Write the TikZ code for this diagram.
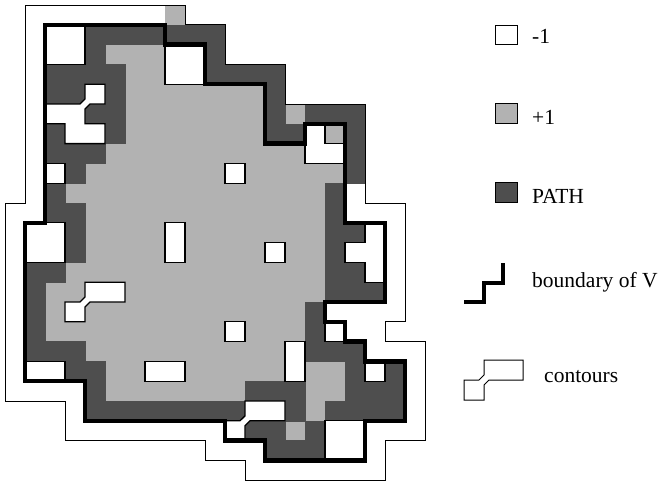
\documentclass[tikz,border=0pt]{standalone}
\usepackage{fontspec}
\setmainfont{Liberation Serif}
\definecolor{lightc}{RGB}{178,178,178}
\definecolor{darkc}{RGB}{78,78,78}
\begin{document}
\begin{tikzpicture}[x=1pt,y=-1pt,
  thinline/.style={line width=1pt, draw=black},
  cellline/.style={line width=1.3pt, draw=black, fill=white},
  vline/.style={line width=4.5pt, draw=black, line join=miter},
  darkcell/.style={fill=darkc, draw=darkc, line width=0.4pt},
  lightcell/.style={fill=lightc, draw=lightc, line width=0.4pt},
  legtext/.style={font=\fontsize{21.5}{26}\selectfont, anchor=base west, inner sep=0pt}]
\useasboundingbox (0,0) rectangle (666,483);
\begin{scope}[x=20pt, y=-19.8pt, shift={(5pt,-5pt)}]
  % region V (+1 background)
  \fill[lightc] (2,1) -- (8,1) -- (8,2) -- (10,2) -- (10,4) -- (13,4) -- (13,7) -- (15,7) -- (15,6) -- (17,6) -- (17,11) -- (19,11) -- (19,15) -- (16,15) -- (16,16) -- (17,16) -- (17,17) -- (18,17) -- (18,18) -- (20,18) -- (20,21) -- (18,21) -- (18,23) -- (13,23) -- (13,22) -- (11,22) -- (11,21) -- (4,21) -- (4,19) -- (1,19) -- (1,11) -- (2,11) -- cycle;
  % +1 cells outside V
  \foreach \c/\r in {8/0,14/5} \path[lightcell] (\c,\r) rectangle ++(1,1);
  % PATH cells
  \foreach \c/\r in {8/1,9/1,10/1,10/2,10/3,11/3,12/3,13/3,13/4,13/5,13/6,14/6,15/5,16/5,17/5,17/6,17/7,17/8,
    4/1,5/1,6/1,7/1,4/2,2/3,3/3,4/3,5/3,2/4,3/4,5/4,4/5,5/5,2/6,5/6,2/7,3/7,4/7,3/8,
    2/9,16/9,2/10,3/10,16/10,3/11,16/11,17/11,3/12,16/12,1/13,2/13,16/13,17/13,
    1/14,16/14,17/14,18/14,1/15,15/15,1/16,15/16,1/17,2/17,3/17,15/17,16/17,17/17,
    3/18,4/18,17/18,19/18,4/19,12/19,13/19,14/19,17/19,18/19,19/19,
    4/20,5/20,6/20,7/20,8/20,9/20,10/20,11/20,14/20,16/20,17/20,18/20,19/20,
    12/21,13/21,15/21,13/22,14/22,15/22}
    \path[darkcell] (\c,\r) rectangle ++(1,1);
  % -1 clusters inside V
  \path[cellline] (2,1) rectangle (4,3);
  \path[cellline] (8,2) rectangle (10,4);
  \path[cellline] (4,4) -- (5,4) -- (5,5) -- (4.25,5) -- (4,5.25) -- (4,6) -- (5,6) -- (5,7) -- (3,7) -- (3,6) -- (2,6) -- (2,5) -- (3.75,5) -- (4,4.75) -- cycle;
  \path[cellline] (2,8) rectangle (3,9);
  \path[cellline] (1,11) rectangle (3,13);
  \path[cellline] (4,14) -- (6,14) -- (6,15) -- (4.25,15) -- (4,15.25) -- (4,16) -- (3,16) -- (3,15) -- (3.75,15) -- (4,14.75) -- cycle;
  \path[cellline] (1,18) rectangle (3,19);
  \path[cellline] (7,18) rectangle (9,19);
  \path[cellline] (8,11) rectangle (9,13);
  \path[cellline] (11,8) rectangle (12,9);
  \path[cellline] (13,12) rectangle (14,13);
  \path[cellline] (11,16) rectangle (12,17);
  \path[cellline] (14,17) rectangle (15,19);
  \path[cellline] (12,20) -- (14,20) -- (14,21) -- (12.25,21) -- (12,21.25) -- (12,22) -- (11,22) -- (11,21) -- (11.75,21) -- (12,20.75) -- cycle;
  \path[cellline] (16,21) rectangle (18,23);
  \path[cellline] (15,6) -- (16,6) -- (16,7) -- (17,7) -- (17,8) -- (15,8) -- cycle;
  \path[cellline] (18,11) -- (19,11) -- (19,14) -- (18,14) -- (18,13) -- (17,13) -- (17,12) -- (18,12) -- cycle;
  \path[cellline] (16,16) rectangle (17,17);
  \path[cellline] (18,18) rectangle (19,19);
  % outer contour
  \draw[thinline] (1,0) -- (9,0) -- (9,1) -- (11,1) -- (11,3) -- (14,3) -- (14,5) -- (18,5) -- (18,10) -- (20,10) -- (20,16) -- (19,16) -- (19,17) -- (21,17) -- (21,22) -- (19,22) -- (19,24) -- (12,24) -- (12,23) -- (10,23) -- (10,22) -- (3,22) -- (3,20) -- (0,20) -- (0,10) -- (1,10) -- cycle;
  % boundary of V
  \draw[vline] (2,1) -- (8,1) -- (8,2) -- (10,2) -- (10,4) -- (13,4) -- (13,7) -- (15,7) -- (15,6) -- (17,6) -- (17,11) -- (19,11) -- (19,15) -- (16,15) -- (16,16) -- (17,16) -- (17,17) -- (18,17) -- (18,18) -- (20,18) -- (20,21) -- (18,21) -- (18,23) -- (13,23) -- (13,22) -- (11,22) -- (11,21) -- (4,21) -- (4,19) -- (1,19) -- (1,11) -- (2,11) -- cycle;
\end{scope}
% legend
\path[cellline, line width=1pt] (495,25) rectangle (517,44);
\node[legtext] (lm) at (532,43) {-1};
\path[fill=lightc, draw=black, line width=0.8pt] (495,103) rectangle (517,123);
\node[legtext] (lp) at (532,124) {+1};
\path[fill=darkc, draw=black, line width=0.8pt] (495,182) rectangle (517,202);
\node[legtext] (lpath) at (532,203) {PATH};
\draw[line width=4pt] (464,302) -- (484,302) -- (484,283) -- (503,283) -- (503,263);
\node[legtext] (lv) at (532,287) {boundary of V};
\draw[line width=1pt] (484,360) -- (523,360) -- (523,380) -- (489,380) -- (484,385) -- (484,400) -- (464,400) -- (464,380) -- (479,380) -- (484,375) -- cycle;
\node[legtext] (lc) at (544,382) {contours};
\end{tikzpicture}
\end{document}
